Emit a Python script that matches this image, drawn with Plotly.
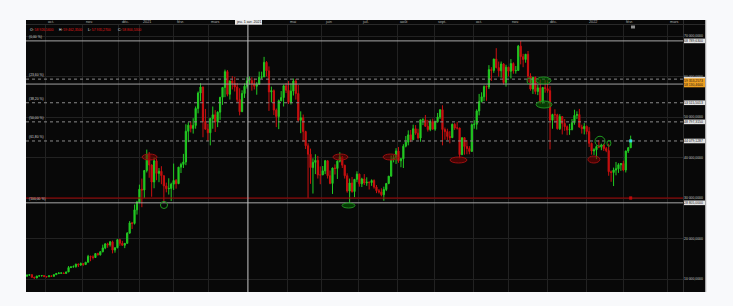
import plotly.graph_objects as go

# ---------------- data (BTC/USD, 2-day candles, slot-indexed) ----------------
opens = [10680, 10950, 11080, 10420, 10240, 10730, 10780, 10840, 10620, 10550,
         10780, 10670, 11060, 11380, 11430, 11500, 11360, 11750, 12820, 12960,
         13030, 13650, 13460, 13800, 13560, 14130, 15580, 15470, 15300, 16290,
         15960, 16720, 17680, 18680, 18420, 19170, 17140, 17720,
         19700, 18800, 18320, 18800, 21320, 23850, 23730, 27080,
         28990, 32180, 31970, 36800, 40780, 38150, 33950, 39180, 36070, 36600,
         35510, 32990, 32290, 32370, 33420, 34320, 33540, 37620, 38290, 38900,
         46480, 47980, 47190, 47930, 52120, 55920, 57410, 48890, 46990, 46110,
         49630, 50540, 48800, 51200, 54880, 57300, 61200, 55600, 58900, 58300,
         57400, 54300, 51300, 55800, 57600, 58900, 59000, 58200, 57600, 58100,
         59800, 59900, 63500, 61400, 56200, 56500, 51700, 50100, 54000, 54800,
         57700, 56600, 53600, 56400, 58900, 55800, 49200, 49800, 46400, 42900,
         40800, 37500, 38800, 39300, 35700, 35700, 36700, 39200, 35500, 33600,
         37400, 37300, 39100, 40100, 38100, 35500, 31700, 33700, 31600, 34600,
         35900, 33500, 34700, 33700, 33900, 33800, 34300, 32700, 31800, 31500,
         30800, 32100, 33600, 35400, 39400, 40000, 41600, 39200, 39700, 42800,
         43800, 45600, 44400, 47100, 46000, 44800, 49300, 49300, 47700, 46900,
         48900, 47000, 48800, 50000, 51800, 46900, 46400, 45200, 44900, 48200,
         47300, 47300, 40700, 44900, 42700, 42200, 41500, 48100, 48200, 51500,
         53800, 55000, 57500, 57400, 61700, 61500, 64300, 62200, 61400, 63100,
         58500, 62300, 61300, 63200, 61400, 61500, 67500, 64900, 64200, 65500,
         60100, 56900, 59800, 56300, 57200, 53600, 57300, 57000, 56500, 49200,
         50600, 50550, 47100, 50100, 48400, 47600, 46800, 46900, 48600, 50400,
         50600, 47500, 47100, 47700, 46400, 43500, 41600, 41900, 42700, 42600,
         43100, 42200, 41700, 36500, 36300, 36900, 37200, 38200, 38500, 36900,
         41600, 42400]
highs = [11100, 11080, 11080, 10560, 10780, 10820, 10950, 10920, 10640, 10800,
         10800, 11100, 11490, 11700, 11550, 11540, 11820, 13200, 13190, 13350,
         13790, 13850, 14080, 13900, 14240, 15960, 15770, 15840, 16340, 16480,
         16880, 18480, 18810, 18960, 19400, 19480, 17800, 19850,
         19920, 19420, 18850, 21560, 24300, 24100, 28400, 29300,
         33300, 34800, 36900, 41950, 41350, 38300, 40000, 39700, 37400, 37850,
         35550, 33800, 34870, 33780, 38500, 34700, 37660, 38700, 40900, 48200,
         48700, 48900, 49700, 52600, 56300, 58350, 57500, 52000, 48300, 49800,
         52600, 51700, 51400, 54900, 57400, 61700, 61600, 59000, 60100, 59900,
         58400, 57100, 56600, 58300, 59800, 60000, 59800, 59500, 58600, 61200,
         61200, 64850, 63800, 62500, 57500, 56800, 52100, 54300, 56400, 58000,
         58400, 58900, 58300, 59500, 59400, 57900, 51400, 50600, 46600, 43500,
         42200, 39800, 40800, 40400, 37800, 37900, 39400, 39200, 36800, 37500,
         38300, 39300, 41300, 40400, 38200, 36100, 34800, 35200, 34700, 36600,
         36000, 35000, 35900, 35100, 34100, 34600, 34600, 33200, 32200, 32400,
         32800, 33600, 35400, 40500, 40600, 42300, 42600, 39900, 43300, 45300,
         46700, 46800, 48100, 48000, 47100, 49300, 49700, 50500, 49300, 49400,
         49600, 49100, 51000, 51900, 52900, 47400, 47100, 46500, 48400, 48500,
         48800, 47300, 44900, 45000, 44300, 42800, 48400, 49200, 51900, 55700,
         56100, 57800, 57800, 62800, 62300, 64400, 67000, 63700, 63700, 63300,
         62900, 62400, 64300, 63500, 62600, 67800, 68790, 65600, 65500, 66300,
         60800, 59900, 60000, 58000, 59300, 57400, 59100, 59000, 57600, 50800,
         51900, 50800, 50700, 50200, 49500, 47900, 48300, 49500, 51800, 51400,
         52000, 48100, 48500, 47900, 47500, 43700, 42300, 43000, 44300, 43400,
         43400, 42600, 43400, 36800, 37500, 38900, 38600, 38600, 39200, 41700,
         42600, 45400]
lows = [10650, 10800, 10370, 10160, 10200, 10640, 10640, 10440, 10370, 10530,
        10530, 10550, 11050, 11200, 11300, 11220, 11340, 11700, 12700, 12900,
        12800, 12950, 13230, 13250, 13530, 14100, 14400, 14830, 15270, 15800,
        15800, 16600, 17350, 17700, 18000, 16330, 16500, 17580,
        18200, 18200, 17620, 18750, 21250, 22350, 23450, 25900,
        28700, 27730, 30000, 36300, 35000, 30300, 32400, 34400, 33900, 33400,
        28850, 31400, 30840, 29240, 31990, 32300, 33430, 36160, 37400, 38100,
        43800, 46200, 45900, 47100, 50900, 53900, 45000, 46900, 44100, 43000,
        47100, 46300, 47500, 49300, 53000, 54900, 55100, 54300, 56800, 56300,
        53700, 50400, 51300, 54700, 57000, 58000, 56500, 56800, 55500, 57900,
        59400, 59900, 60000, 51500, 53600, 50500, 47500, 47000, 53900, 52600,
        55900, 53200, 53100, 55300, 54300, 48900, 46000, 43900, 42100, 30000,
        33500, 31100, 35900, 34800, 33400, 35700, 35900, 34800, 33400, 31000,
        35800, 34700, 38800, 37400, 34800, 31300, 28800, 31300, 30200, 33900,
        32800, 32700, 33200, 33000, 32100, 33000, 32300, 31200, 31100, 30400,
        29300, 31700, 33400, 35300, 38800, 38400, 38700, 37600, 37400, 42500,
        43000, 43800, 44300, 45600, 44400, 43900, 48000, 47600, 46400, 46500,
        46900, 46600, 48600, 49500, 43000, 44400, 44300, 43500, 44800, 46800,
        46900, 39800, 40600, 40700, 40800, 40800, 41400, 47100, 46900, 50400,
        53600, 53900, 54000, 56900, 58900, 60900, 62000, 60000, 59700, 58000,
        57500, 60000, 59500, 60700, 60700, 61400, 63000, 62300, 63400, 58600,
        56500, 55700, 55600, 55400, 53300, 53300, 56000, 56000, 42000, 47100,
        48600, 46900, 46800, 45700, 46600, 45500, 45600, 46700, 48100, 49500,
        47400, 45900, 45700, 45700, 42600, 40700, 40600, 39600, 42300, 41800,
        41600, 41300, 35500, 34000, 32950, 35600, 36200, 36700, 36600, 36300,
        41100, 42400]
closes = [10950, 11080, 10420, 10240, 10730, 10780, 10840, 10620, 10550, 10780,
          10670, 11060, 11380, 11430, 11500, 11360, 11750, 12820, 12960, 13030,
          13650, 13460, 13800, 13560, 14130, 15580, 15470, 15300, 16290, 15960,
          16720, 17680, 18680, 18420, 19170, 17140, 17720, 19700,
          18800, 18320, 18800, 21320, 23850, 23730, 27080, 29000,
          32180, 31970, 36800, 40780, 38150, 33950, 39180, 36070, 36600, 35510,
          32990, 32290, 32370, 33420, 34320, 33540, 37620, 38290, 38900, 46480,
          47980, 47190, 47930, 52120, 55920, 57410, 48890, 46990, 46110, 49630,
          50540, 48800, 51200, 54880, 57300, 61200, 55600, 58900, 58300, 57400,
          54300, 51300, 55800, 57600, 58900, 59000, 58200, 57600, 58100, 59800,
          59900, 63500, 61400, 56200, 56500, 51700, 50100, 54000, 54800, 57700,
          56600, 53600, 56400, 58900, 55800, 49200, 49800, 46400, 42900, 40800,
          37500, 38800, 39300, 35700, 35700, 36700, 39200, 35500, 33600, 37400,
          37300, 39100, 40100, 38100, 35500, 31700, 33700, 31600, 34600, 35900,
          33500, 34700, 33700, 33900, 33800, 34300, 32700, 31800, 31500, 30800,
          32100, 33600, 35400, 39400, 40000, 41600, 39200, 39700, 42800, 43800,
          45600, 44400, 47100, 46000, 44800, 49300, 49300, 47700, 46900, 48900,
          47000, 48800, 50000, 51800, 46900, 46400, 45200, 44900, 48200, 47300,
          47300, 40700, 44900, 42700, 42200, 41500, 48100, 48200, 51500, 53800,
          55000, 57500, 57400, 61700, 61500, 64300, 62200, 61400, 63100, 58500,
          62300, 61300, 63200, 61400, 61500, 67500, 64900, 64200, 65500, 60100,
          56900, 59800, 56300, 57200, 53600, 57300, 57000, 56500, 49200, 50600,
          50550, 47100, 50100, 48400, 47600, 46800, 46900, 48600, 50400, 50600,
          47500, 47100, 47700, 46400, 43500, 41600, 41900, 42700, 42600, 43100,
          42200, 41700, 36500, 36300, 36900, 37200, 38200, 38500, 36900, 41600,
          42400, 44100]
slots = list(range(len(closes)))

month_labels = ["oct.", "nov.", "déc.", "2021", "févr.", "mars", "avr.", "mai", "juin",
                "juil.", "août", "sept.", "oct.", "nov.", "déc.", "2022", "févr.", "mars"]
month_slots = [7.4, 22.9, 37.6, 46.2, 60.1, 74.1, 90.4, 106.4, 120.7,
               135.8, 151.4, 166.9, 182.5, 197.2, 212.8, 228.8, 244.0, 261.9]
price_ticks = [10000, 20000, 30000, 40000, 50000, 60000, 70000]

fib_high = 68789.63
fib_low = 28805.00
fib_ratios = [0.0, 0.236, 0.382, 0.5, 0.618, 1.0]
fib_names = ["(0,00 %)", "(23,60 %)", "(38,20 %)", "(50,00 %)", "(61,80 %)", "(100,00 %)"]
red_level = 30000
cross_slot = 90.4
cross_price = 58130.46
cross_date = "jeu. 1 avr. 2021"
ohlc_legend = [("O:", "58 926,5600"), ("H:", "59 462,3500"), ("L:", "57 935,2700"), ("C:", "58 800,5300")]

# drawn annotations (slot range, price range, kind)
ellipses = [
    (47.1, 53.2, 39380, 40860, "red"),
    (125.2, 131.3, 39380, 40860, "red"),
    (145.7, 151.8, 39380, 40860, "red"),
    (173.1, 180.0, 38640, 40120, "red"),
    (229.5, 234.4, 38640, 40370, "red"),
    (54.6, 57.5, 27410, 29140, "ring"),
    (128.9, 134.2, 27530, 28760, "green"),
    (204.6, 206.2, 58150, 59630, "ring"),
    (208.3, 214.4, 58150, 59880, "green"),
    (208.3, 214.8, 52220, 53950, "green"),
    (232.4, 236.5, 42780, 45250, "ring"),
    (237.3, 238.9, 42780, 44260, "ring"),
]

# ---------------- layout geometry (pixels) ----------------
W, H = 733, 306
PL, PR, PT, PB = 26, 683, 24, 292


def xp(px):
    return (px - PL) / (PR - PL)


def yp(py):
    return (PB - py) / (PB - PT)


def fmt(v):
    return f"{v:,.4f}".replace(",", " ").replace(".", ",")


GREEN = "#22c922"
RED = "#c81010"
FONT = "Liberation Sans"

fig = go.Figure()
fig.add_trace(go.Candlestick(
    x=slots, open=opens, high=highs, low=lows, close=closes,
    increasing=dict(line=dict(color=GREEN, width=1), fillcolor=GREEN),
    decreasing=dict(line=dict(color=RED, width=1), fillcolor=RED),
    whiskerwidth=0, hoverinfo="skip", showlegend=False))

fig.add_trace(go.Scatter(x=[slots[-1]], y=[closes[-1]], mode="markers",
                         marker=dict(symbol="square", size=3, color="#38d8e8"),
                         hoverinfo="skip", showlegend=False))
fig.add_trace(go.Scatter(x=[slots[-1]], y=[red_level], mode="markers",
                         marker=dict(symbol="square", size=3, color="#e01010"),
                         hoverinfo="skip", showlegend=False))

shapes = []
# chart background incl. top band & right price strip
shapes.append(dict(type="rect", xref="paper", yref="paper", x0=xp(26), x1=xp(705.5),
                   y0=yp(292), y1=yp(20), fillcolor="#080808", line=dict(width=0), layer="below"))
shapes.append(dict(type="line", xref="paper", yref="paper", x0=xp(706), x1=xp(706),
                   y0=yp(292), y1=yp(20), line=dict(color="#cfcfcf", width=1)))
shapes.append(dict(type="line", xref="paper", yref="paper", x0=xp(683.5), x1=xp(683.5),
                   y0=yp(292), y1=yp(20), line=dict(color="#2c2c2c", width=1)))
shapes.append(dict(type="line", xref="paper", yref="paper", x0=xp(26), x1=xp(705),
                   y0=yp(24.5), y1=yp(24.5), line=dict(color="#2a2a2a", width=1)))

# fibonacci levels
for r in fib_ratios:
    lvl = fib_high - r * (fib_high - fib_low)
    solid = r in (0.0, 1.0)
    shapes.append(dict(type="line", xref="paper", yref="y", x0=0, x1=1, y0=lvl, y1=lvl,
                       line=dict(color="#a8a8a8" if solid else "#8a8a8a", width=1,
                                 dash="solid" if solid else "dot")))
# red horizontal level
shapes.append(dict(type="line", xref="paper", yref="y", x0=0, x1=1, y0=red_level, y1=red_level,
                   line=dict(color="#a00000", width=1)))
# crosshair
shapes.append(dict(type="line", xref="x", yref="paper", x0=cross_slot, x1=cross_slot,
                   y0=0, y1=yp(20), line=dict(color="#bdbdbd", width=1)))
shapes.append(dict(type="line", xref="paper", yref="y", x0=0, x1=1, y0=cross_price, y1=cross_price,
                   line=dict(color="#a0a0a0", width=1)))

# ellipses
for x0, x1, y0, y1, kind in ellipses:
    if kind == "red":
        st = dict(fillcolor="rgba(120,0,0,0.55)", line=dict(color="#9a1010", width=1))
    elif kind == "green":
        st = dict(fillcolor="rgba(0,100,0,0.55)", line=dict(color="#1f8f1f", width=1))
    else:
        st = dict(fillcolor="rgba(0,0,0,0)", line=dict(color="#1f9a1f", width=1))
    shapes.append(dict(type="circle", xref="x", yref="y", x0=x0, x1=x1, y0=y0, y1=y1, **st))

# right-side value boxes
for r in fib_ratios:
    lvl = fib_high - r * (fib_high - fib_low)
    shapes.append(dict(type="rect", xref="paper", yref="y", ysizemode="pixel", yanchor=lvl,
                       x0=xp(684), x1=xp(705), y0=-2.3, y1=2.3,
                       fillcolor="#e4e4e4", line=dict(width=0)))
shapes.append(dict(type="rect", xref="paper", yref="paper", x0=xp(684), x1=xp(705),
                   y0=yp(87.3), y1=yp(78.3), fillcolor="#f0a020", line=dict(width=0)))
# crosshair date box
shapes.append(dict(type="rect", xref="paper", yref="paper", x0=xp(235), x1=xp(262),
                   y0=yp(24.7), y1=yp(20), fillcolor="#e8e8e8", line=dict(width=0)))
# small marker icon near top
shapes.append(dict(type="rect", xref="paper", yref="paper", x0=xp(631), x1=xp(635),
                   y0=yp(28.5), y1=yp(25.5), fillcolor="#8c8c8c", line=dict(width=0)))

ann = []
for lab, s in zip(month_labels, month_slots):
    if abs(s - cross_slot) < 3:
        continue  # hidden under the crosshair date label, as in the reference
    ann.append(dict(x=s, xref="x", y=yp(22.3), yref="paper", text=lab, showarrow=False,
                    xanchor="left", yanchor="middle", xshift=1,
                    font=dict(family=FONT, size=3.8, color="#b4b4b4")))
ann.append(dict(x=xp(248.5), xref="paper", y=yp(22.4), yref="paper", text=cross_date,
                showarrow=False, xanchor="center", yanchor="middle",
                font=dict(family=FONT, size=3.6, color="#111111")))
for p in price_ticks:
    ann.append(dict(x=xp(705), xref="paper", y=p, yref="y", text=fmt(p), showarrow=False,
                    xanchor="right", yanchor="middle",
                    font=dict(family=FONT, size=3.4, color="#c8c8c8")))
for r, nm in zip(fib_ratios, fib_names):
    lvl = fib_high - r * (fib_high - fib_low)
    ann.append(dict(x=xp(27), xref="paper", y=lvl, yref="y", text=nm, showarrow=False,
                    xanchor="left", yanchor="bottom", yshift=0,
                    font=dict(family=FONT, size=3.4, color="#d0d0d0")))
    if r != 0.236:
        ann.append(dict(x=xp(705), xref="paper", y=lvl, yref="y", text=fmt(lvl), showarrow=False,
                        xanchor="right", yanchor="middle",
                        font=dict(family=FONT, size=3.4, color="#1a1a1a")))
lvl236 = fib_high - 0.236 * (fib_high - fib_low)
ann.append(dict(x=xp(705), xref="paper", y=yp(80.8), yref="paper", text=fmt(lvl236),
                showarrow=False, xanchor="right", yanchor="middle",
                font=dict(family=FONT, size=3.4, color="#1a1a1a")))
ann.append(dict(x=xp(705), xref="paper", y=yp(84.6), yref="paper", text=fmt(cross_price),
                showarrow=False, xanchor="right", yanchor="middle",
                font=dict(family=FONT, size=3.4, color="#1a1a1a")))
for (k, v), px in zip(ohlc_legend, [28, 57, 86, 116]):
    ann.append(dict(x=xp(px), xref="paper", y=yp(30), yref="paper",
                    text=f"{k} <span style='color:#e01818'>{v}</span>", showarrow=False,
                    xanchor="left", yanchor="middle",
                    font=dict(family=FONT, size=3.4, color="#f0f0f0")))

fig.update_layout(
    width=W, height=H,
    margin=dict(l=PL, r=W - PR, t=PT, b=H - PB, pad=0),
    paper_bgcolor="#f8f9fb", plot_bgcolor="#080808",
    showlegend=False, shapes=shapes, annotations=ann,
    xaxis=dict(range=[-0.41, 268.41], tickvals=month_slots, showticklabels=False,
               showgrid=True, gridcolor="#222222", gridwidth=1, zeroline=False,
               showline=False, ticks="", rangeslider=dict(visible=False), fixedrange=True),
    yaxis=dict(range=[6790, 72963], tickvals=price_ticks, showticklabels=False,
               showgrid=True, gridcolor="#222222", gridwidth=1, zeroline=False,
               showline=False, ticks="", fixedrange=True),
)

fig.write_html("out.html", config=dict(displayModeBar=False))
